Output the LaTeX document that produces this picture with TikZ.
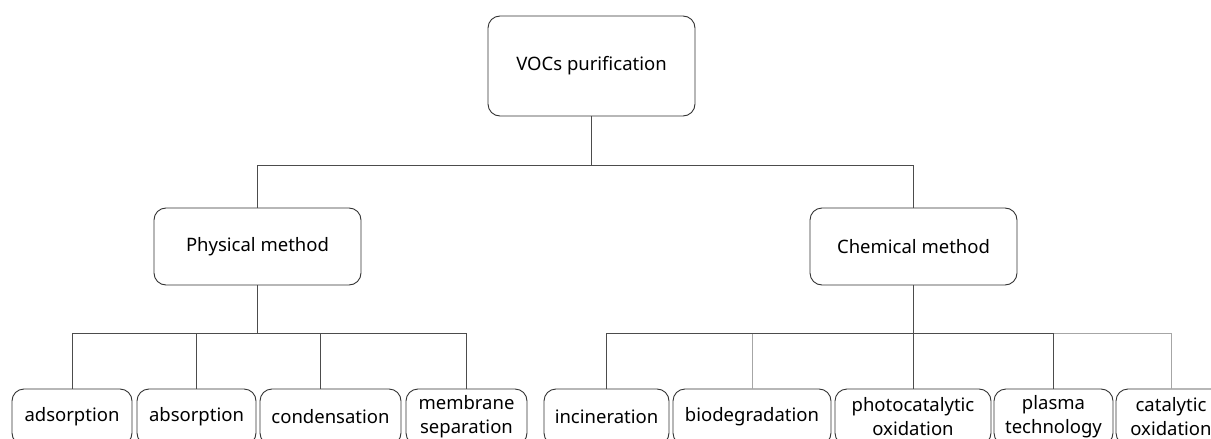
\documentclass[tikz,border=0pt]{standalone}
\usepackage{fontspec}
\setmainfont{Noto Sans}
\begin{document}
\begin{tikzpicture}[x=1pt,y=-1pt,
    box/.style={draw=black!80,rounded corners=12pt,line width=0.9pt,align=center,
                inner sep=0pt,font=\fontsize{18.5}{24}\selectfont},
    leaf/.style={box,minimum height=56pt},
    link/.style={draw=black!70,line width=0.8pt},
    faintlink/.style={draw=black!35,line width=0.8pt}]
    \useasboundingbox (0,0) rectangle (1211,439);
    \clip (0,0) rectangle (1211,439);
    % top levels
    \node[box,minimum width=207pt,minimum height=100pt] (voc) at (591.5,66) {VOCs purification};
    \node[box,minimum width=207pt,minimum height=77pt] (phys) at (257.5,246.5) {Physical method};
    \node[box,minimum width=207pt,minimum height=77pt] (chem) at (913.5,246.5) {Chemical method};
    % physical leaves
    \node[leaf,minimum width=120pt] (adsorp) at (72,417) {adsorption};
    \node[leaf,minimum width=119pt] (absorp) at (196.5,417) {absorption};
    \node[leaf,minimum width=141pt] (conden) at (330.5,417) {condensation};
    \node[leaf,minimum width=121pt] (membr) at (466.5,417) {membrane\\separation};
    % chemical leaves
    \node[leaf,minimum width=125pt] (incin) at (606.5,417) {incineration};
    \node[leaf,minimum width=158pt] (biodeg) at (752,417) {biodegradation};
    \node[leaf,minimum width=156pt] (photo) at (913,417) {photocatalytic\\oxidation};
    \node[leaf,minimum width=119pt] (plasma) at (1053.5,417) {plasma\\technology};
    \node[leaf,minimum width=110pt] (catal) at (1171,417) {catalytic\\oxidation};
    % connectors
    \coordinate (bus0) at (591.5,165);
    \coordinate (bus1) at (257.5,333);
    \coordinate (bus2) at (913.5,333);
    \draw[link] (voc.south) -- (bus0);
    \draw[link] (bus0) -| (phys.north);
    \draw[link] (bus0) -| (chem.north);
    \draw[link] (phys.south) -- (bus1);
    \foreach \leafname in {adsorp,absorp,membr}
        \draw[link] (bus1) -| (\leafname.north);
    \draw[link] (bus1) -| ([xshift=-10pt]conden.north);
    \draw[link] (chem.south) -- (bus2);
    \foreach \leafname in {biodeg,catal}
        \draw[faintlink] (bus2) -| (\leafname.north);
    \foreach \leafname in {incin,photo,plasma}
        \draw[link] (bus2) -| (\leafname.north);
\end{tikzpicture}
\end{document}
